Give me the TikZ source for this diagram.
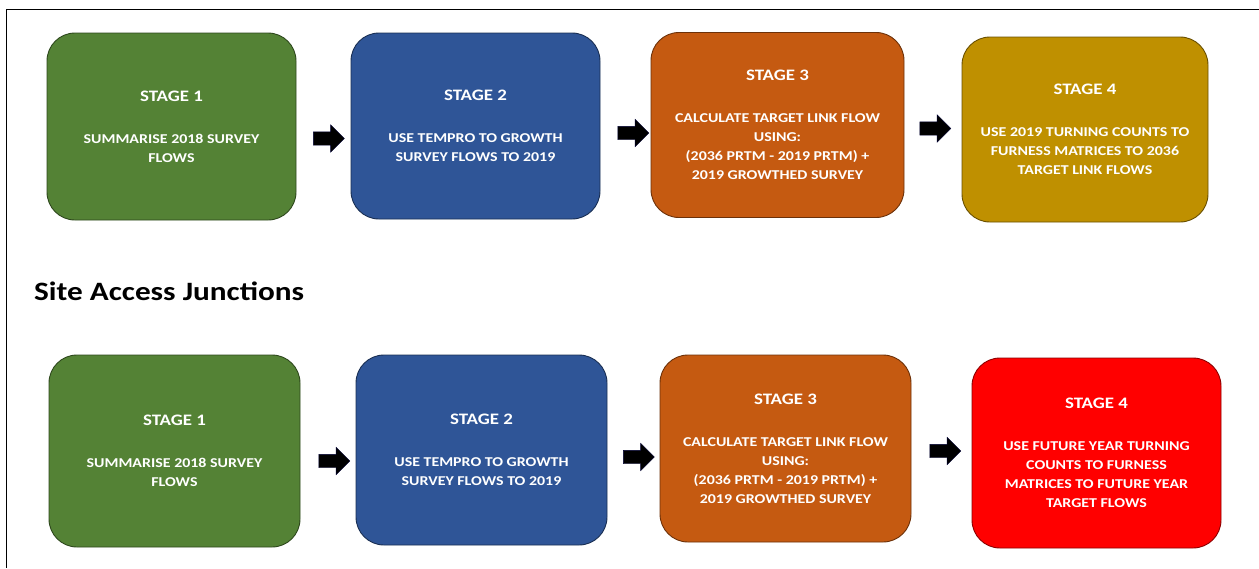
\documentclass[tikz,border=0pt]{standalone}
\usepackage{fontspec}
\setmainfont{Carlito}[FakeStretch=1.18]
\usetikzlibrary{shapes.arrows, positioning}
\definecolor{stagegreen}{HTML}{548235}
\definecolor{stageblue}{HTML}{2F5597}
\definecolor{stageorange}{HTML}{C55A11}
\definecolor{stagegold}{HTML}{BF9000}
\definecolor{stagered}{HTML}{FF0000}
\newcommand{\stagehead}[1]{{\fontsize{16}{19}\selectfont #1}\\[23pt]}
\tikzset{stagebox/.style={rectangle, rounded corners=28pt, fill=#1, draw=#1!55!black, line width=0.9pt,
        text=white, align=center, font=\bfseries\fontsize{13.5}{19}\selectfont,
        minimum width=249pt, minimum height=187pt, inner sep=0pt},
    flowarrow/.style={single arrow, fill=black, draw=black!80!blue, line width=0.4pt, inner sep=0pt,
        inner ysep=6.5pt, minimum height=31pt, single arrow head extend=7pt, single arrow head indent=0pt}}
\begin{document}
\begin{tikzpicture}[x=1pt,y=-1pt]
\useasboundingbox (0,0) rectangle (1259,568);
\draw[line width=1.3pt] (1259,9.5) -- (6.5,9.5) -- (6.5,568);
\node[stagebox=stagegreen] (b1) at (171.5,126.5) {\stagehead{STAGE 1}SUMMARISE 2018 SURVEY\\FLOWS};
\node[stagebox=stageblue, minimum height=186pt] (b2) at (475.5,126) {\stagehead{STAGE 2}USE TEMPRO TO GROWTH\\SURVEY FLOWS TO 2019};
\node[stagebox=stageorange, minimum width=253pt, minimum height=185pt] (b3) at (777.5,125) {\stagehead{STAGE 3}CALCULATE TARGET LINK FLOW\\USING:\\(2036 PRTM - 2019 PRTM) +\\2019 GROWTHED SURVEY};
\node[stagebox=stagegold, minimum width=246pt, minimum height=185pt] (b4) at (1085,129.5) {\stagehead{STAGE 4}USE 2019 TURNING COUNTS TO\\FURNESS MATRICES TO 2036\\TARGET LINK FLOWS};
\node[flowarrow] (a1) at (325.5,138.5) {};
\node[flowarrow] (a2) at (630,133) {};
\node[flowarrow] (a3) at (932,128.5) {};
\node[anchor=base west, inner sep=0pt, font=\bfseries\fontsize{26.5}{30}\selectfont] (heading) at (34,300) {Site Access Junctions};
\node[stagebox=stagegreen, minimum width=251pt, minimum height=192pt] (c1) at (174.5,451) {\stagehead{STAGE 1}SUMMARISE 2018 SURVEY\\FLOWS};
\node[stagebox=stageblue, minimum width=251pt, minimum height=190pt] (c2) at (481.5,450) {\stagehead{STAGE 2}USE TEMPRO TO GROWTH\\SURVEY FLOWS TO 2019};
\node[stagebox=stageorange, minimum width=251pt, minimum height=187pt] (c3) at (785.5,448.5) {\stagehead{STAGE 3}CALCULATE TARGET LINK FLOW\\USING:\\(2036 PRTM - 2019 PRTM) +\\2019 GROWTHED SURVEY};
\node[stagebox=stagered, minimum height=190pt] (c4) at (1096.5,453) {\stagehead{STAGE 4}USE FUTURE YEAR TURNING\\COUNTS TO FURNESS\\MATRICES TO FUTURE YEAR\\TARGET FLOWS};
\node[flowarrow] (d1) at (331,461) {};
\node[flowarrow] (d2) at (635.5,457) {};
\node[flowarrow] (d3) at (942,451) {};
\end{tikzpicture}
\end{document}
